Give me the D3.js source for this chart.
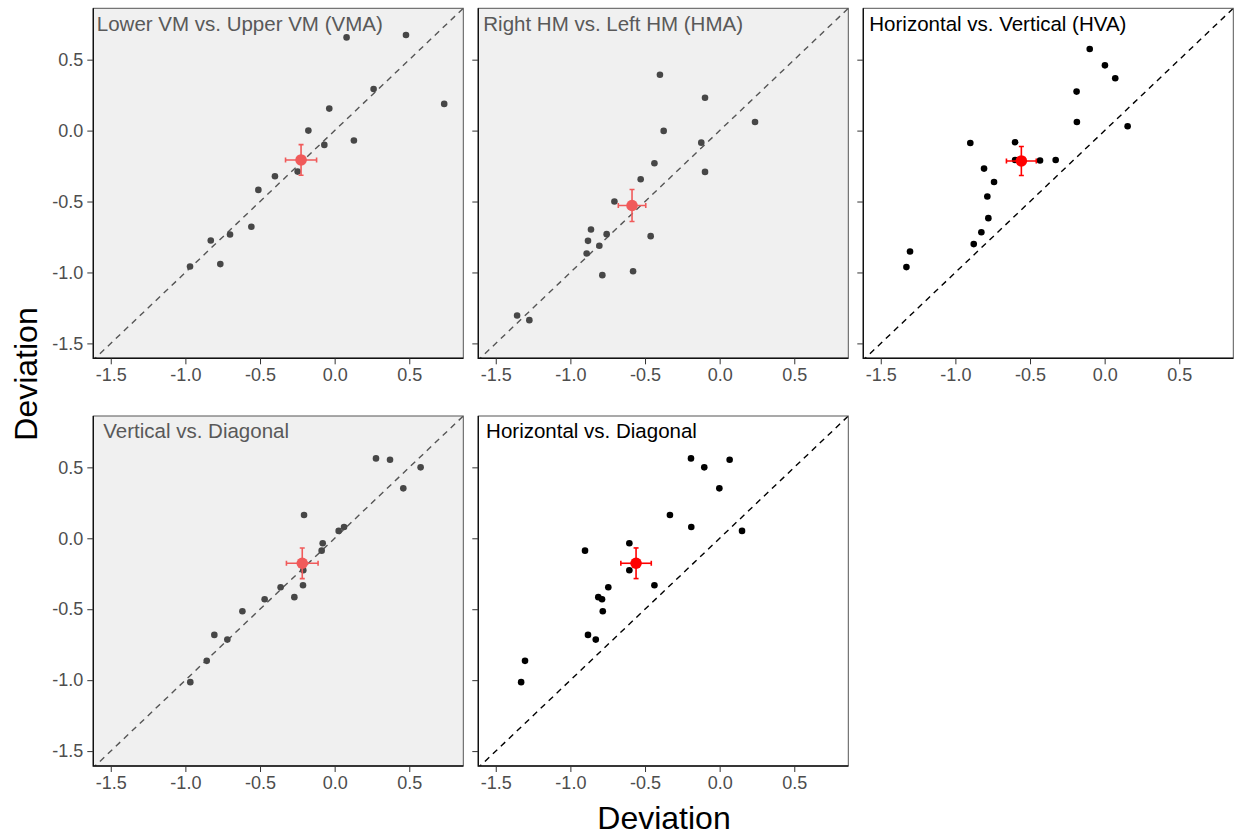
<!DOCTYPE html>
<html>
<head>
<meta charset="utf-8">
<script src="https://cdn.jsdelivr.net/npm/d3@7"></script>
<style>
  html, body { margin: 0; padding: 0; background: #ffffff; }
  svg { display: block; font-family: "Liberation Sans", Arial, sans-serif; }
</style>
</head>
<body>
<svg id="chart" width="1239" height="838"></svg>
<script>
// ---------- data ----------
const titles = [
  "Lower VM vs. Upper VM (VMA)",
  "Right HM vs. Left HM (HMA)",
  "Horizontal vs. Vertical (HVA)",
  "Vertical vs. Diagonal",
  "Horizontal vs. Diagonal"
];
// which panels are drawn "faded" (grey background)
const faded = [true, true, false, true, false];

const vmaX = [0.080, 0.478, 0.261, 0.734, -0.036, -0.176, -0.069, 0.129, -0.248, -0.400, -0.511, -0.558, -0.701, -0.830, -0.766, -0.969];
const vmaY = [0.657, 0.674, 0.293, 0.188, 0.155, 0.000, -0.101, -0.070, -0.289, -0.322, -0.418, -0.678, -0.732, -0.775, -0.941, -0.958];

const hmaX = [-0.400, -0.098, 0.237, -0.375, -0.123, -0.098, -0.437, -0.529, -0.705, -0.462, -0.862, -0.757, -0.882, -0.806, -0.891, -0.786, -0.580, -1.357, -1.275];
const hmaY = [0.394, 0.232, 0.061, -0.002, -0.085, -0.291, -0.230, -0.343, -0.500, -0.744, -0.697, -0.730, -0.777, -0.812, -0.866, -1.019, -0.991, -1.303, -1.336];

const hvaX = [-0.100, 0.002, 0.071, -0.188, -0.186, 0.154, -0.900, -0.600, -0.600, -0.433, -0.328, -0.808, -0.741, -0.786, -0.779, -0.826, -0.877, -1.304, -1.328];
const hvaY = [0.575, 0.460, 0.369, 0.275, 0.061, 0.031, -0.087, -0.082, -0.207, -0.211, -0.207, -0.268, -0.362, -0.465, -0.617, -0.716, -0.800, -0.852, -0.962];

const vdX = [0.277, 0.371, 0.576, 0.460, -0.205, 0.063, 0.027, -0.080, -0.087, -0.210, -0.212, -0.270, -0.362, -0.469, -0.618, -0.806, -0.719, -0.857, -0.967];
const vdY = [0.563, 0.554, 0.500, 0.352, 0.164, 0.080, 0.052, -0.035, -0.087, -0.225, -0.331, -0.415, -0.345, -0.430, -0.514, -0.681, -0.714, -0.864, -1.014];

const hdX = [-0.192, 0.067, -0.103, -0.002, -0.333, -0.190, 0.150, -0.605, -0.902, -0.605, -0.437, -0.746, -0.813, -0.788, -0.783, -0.882, -0.830, -1.304, -1.330];
const hdY = [0.563, 0.554, 0.500, 0.352, 0.164, 0.080, 0.052, -0.035, -0.087, -0.225, -0.331, -0.345, -0.415, -0.430, -0.514, -0.681, -0.714, -0.864, -1.014];

const meanX = [-0.225, -0.587, -0.558, -0.217, -0.560];
const meanY = [-0.207, -0.528, -0.214, -0.176, -0.176];
const errX  = [0.104, 0.092, 0.100, 0.106, 0.102];
const errY  = [0.108, 0.113, 0.102, 0.108, 0.108];

const tickValues = [-1.5, -1.0, -0.5, 0.0, 0.5];
const tickLabels = ["-1.5", "-1.0", "-0.5", "0.0", "0.5"];
const axisTitle = "Deviation";

const panelX = [vmaX, hmaX, hvaX, vdX, hdX];
const panelY = [vmaY, hmaY, hvaY, vdY, hdY];

// ---------- layout ----------
const svg = d3.select("#chart");
const pw = 370, ph = 350;
const colLeft = [93.3, 478.3, 863.3];
const rowTop = [8.3, 416];
const titleOffset = [3.5, 5, 6, 10, 7.8];

const xDomain = [-1.617, 0.862];
const yDomain = [-1.605, 0.862];

const x = d3.scaleLinear().domain(xDomain).range([0, pw]);
const y = d3.scaleLinear().domain(yDomain).range([ph, 0]);

titles.forEach((t, i) => {
  const col = i % 3, row = Math.floor(i / 3);
  const g = svg.append("g").attr("transform", `translate(${colLeft[col]},${rowTop[row]})`);
  const f = faded[i];
  const ptColor = f ? "#474747" : "#000000";
  const meanColor = f ? "#f05a5a" : "#ff0000";
  const lineColor = f ? "#555555" : "#000000";
  const txtColor = f ? "#595959" : "#000000";

  const clipId = "clip" + i;
  g.append("clipPath").attr("id", clipId)
    .append("rect").attr("width", pw).attr("height", ph);

  g.append("rect").attr("width", pw).attr("height", ph)
    .attr("fill", f ? "#f0f0f0" : "#ffffff");

  const inner = g.append("g").attr("clip-path", `url(#${clipId})`);

  // identity line
  inner.append("line")
    .attr("x1", x(-2)).attr("y1", y(-2))
    .attr("x2", x(1)).attr("y2", y(1))
    .attr("stroke", lineColor).attr("stroke-width", 1.4)
    .attr("stroke-dasharray", "6,5");

  // individual points
  const pts = panelX[i].map((v, k) => [v, panelY[i][k]]);
  inner.selectAll("circle.pt").data(pts).enter().append("circle")
    .attr("class", "pt")
    .attr("cx", d => x(d[0])).attr("cy", d => y(d[1]))
    .attr("r", 3.3).attr("fill", ptColor);

  // mean with error bars
  const mx = meanX[i], my = meanY[i], ex = errX[i], ey = errY[i];
  const cap = 2.5;
  const eb = inner.append("g").attr("stroke", meanColor).attr("stroke-width", 1.6);
  eb.append("line").attr("x1", x(mx - ex)).attr("x2", x(mx + ex)).attr("y1", y(my)).attr("y2", y(my));
  eb.append("line").attr("x1", x(mx - ex)).attr("x2", x(mx - ex)).attr("y1", y(my) - cap).attr("y2", y(my) + cap);
  eb.append("line").attr("x1", x(mx + ex)).attr("x2", x(mx + ex)).attr("y1", y(my) - cap).attr("y2", y(my) + cap);
  eb.append("line").attr("x1", x(mx)).attr("x2", x(mx)).attr("y1", y(my - ey)).attr("y2", y(my + ey));
  eb.append("line").attr("x1", x(mx) - cap).attr("x2", x(mx) + cap).attr("y1", y(my - ey)).attr("y2", y(my - ey));
  eb.append("line").attr("x1", x(mx) - cap).attr("x2", x(mx) + cap).attr("y1", y(my + ey)).attr("y2", y(my + ey));
  inner.append("circle").attr("cx", x(mx)).attr("cy", y(my)).attr("r", 5.8).attr("fill", meanColor);

  // title
  g.append("text").attr("x", titleOffset[i]).attr("y", 22.4)
    .attr("font-size", "20.5px").attr("fill", txtColor).text(t);

  // border
  g.append("rect").attr("width", pw).attr("height", ph)
    .attr("fill", "none").attr("stroke", "#555555").attr("stroke-width", 1);
  g.append("path").attr("d", `M0,0V${ph}H${pw}`)
    .attr("fill", "none").attr("stroke", "#111111").attr("stroke-width", 1.4);

  // axes
  const xa = g.append("g").attr("transform", `translate(0,${ph})`)
    .call(d3.axisBottom(x).tickValues(tickValues).tickSize(6).tickPadding(4)
      .tickFormat((d, k) => tickLabels[k]));
  const ya = g.append("g")
    .call(d3.axisLeft(y).tickValues(tickValues).tickSize(6).tickPadding(4)
      .tickFormat((d, k) => col === 0 ? tickLabels[k] : ""));
  [xa, ya].forEach(a => {
    a.select(".domain").remove();
    a.selectAll(".tick line").attr("stroke", "#333333").attr("stroke-width", 1);
    a.selectAll(".tick text").attr("fill", "#4d4d4d")
      .style("font-size", "18px").style("font-family", '"Liberation Sans", Arial, sans-serif');
  });
});

// axis titles
svg.append("text").attr("x", 664).attr("y", 829).attr("text-anchor", "middle")
  .attr("font-size", "32px").attr("fill", "#000").text(axisTitle);
svg.append("text").attr("transform", "translate(37,374) rotate(-90)").attr("text-anchor", "middle")
  .attr("font-size", "32px").attr("fill", "#000").text(axisTitle);
</script>
</body>
</html>
